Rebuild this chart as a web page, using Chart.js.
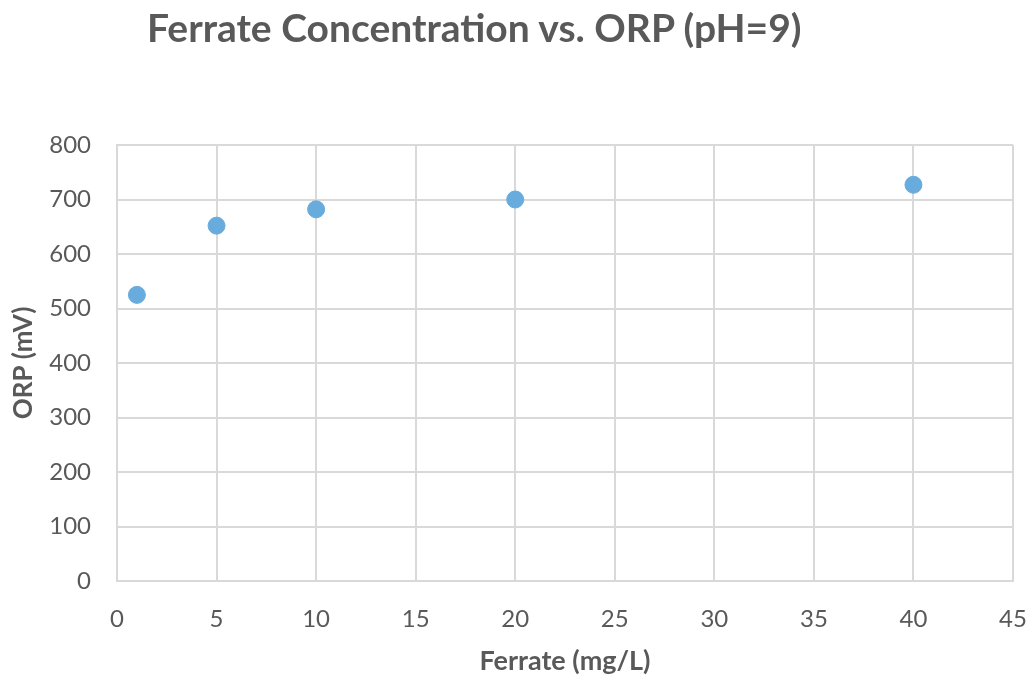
<!DOCTYPE html>
<html>
<head>
<meta charset="utf-8">
<script src="https://cdn.jsdelivr.net/npm/chart.js@4/dist/chart.umd.min.js"></script>
<style>
  body { margin: 0; background: #fff; }
  #wrap { position: relative; width: 1027px; height: 677px; }
  #title {
    position: absolute; left: 147px; top: 4px;
    font: bold 39px Lato, "Open Sans", sans-serif; color: #595959;
    white-space: nowrap;
  }
</style>
</head>
<body>
<div id="wrap">
  <div id="title">Ferrate Concentration vs. ORP (pH=9)</div>
  <canvas id="chart" width="1027" height="677"></canvas>
</div>
<script>
// ferrate dose (mg/L) and measured ORP (mV)
var ferrate = [1, 5, 10, 20, 40];
var orp = [525, 652, 682, 700, 727];

var xTicks = [0, 5, 10, 15, 20, 25, 30, 35, 40, 45];
var yTicks = [0, 100, 200, 300, 400, 500, 600, 700, 800];

var tickFont = { family: 'Lato, "Open Sans", sans-serif', size: 24 };

var ctx = document.getElementById('chart').getContext('2d');
var chart = new Chart(ctx, {
    type: 'scatter',
    data: {
        datasets: [{
            data: ferrate.map(function (x, i) { return { x: x, y: orp[i] }; }),
            backgroundColor: '#68abdd',
            borderColor: '#68abdd',
            pointRadius: 8.5,
            pointHoverRadius: 8.5
        }]
    },
    options: {
        responsive: false,
        animation: false,
        layout: { padding: { left: 0, top: 145, right: 14, bottom: 0 } },
        plugins: {
            legend: { display: false },
            tooltip: { enabled: false }
        },
        scales: {
            x: {
                type: 'linear',
                min: xTicks[0],
                max: xTicks[xTicks.length - 1],
                afterBuildTicks: function (scale) {
                    scale.ticks = xTicks.map(function (v) { return { value: v }; });
                },
                afterFit: function (scale) {
                    scale.height = 96;
                    scale.paddingLeft = 0;
                    scale.paddingRight = 0;
                },
                grid: { color: '#d9d9d9', lineWidth: 2, drawTicks: false },
                border: { color: '#d9d9d9', width: 2 },
                ticks: { color: '#595959', font: tickFont, padding: 24 },
                title: {
                    display: true, text: 'Ferrate (mg/L)',
                    color: '#595959',
                    font: { family: 'Lato, "Open Sans", sans-serif', size: 27, weight: 'bold' },
                    padding: { top: 0, bottom: 0 }
                }
            },
            y: {
                min: yTicks[0],
                max: yTicks[yTicks.length - 1],
                afterBuildTicks: function (scale) {
                    scale.ticks = yTicks.map(function (v) { return { value: v }; });
                },
                afterFit: function (scale) { scale.width = 117; },
                grid: { color: '#d9d9d9', lineWidth: 2, drawTicks: false },
                border: { color: '#d9d9d9', width: 2 },
                ticks: { color: '#595959', font: tickFont, padding: 26 },
                title: {
                    display: true, text: 'ORP (mV)',
                    color: '#595959',
                    font: { family: 'Lato, "Open Sans", sans-serif', size: 26, weight: 'bold' },
                    padding: { top: 8, bottom: 0 }
                }
            }
        }
    }
});
</script>
</body>
</html>
